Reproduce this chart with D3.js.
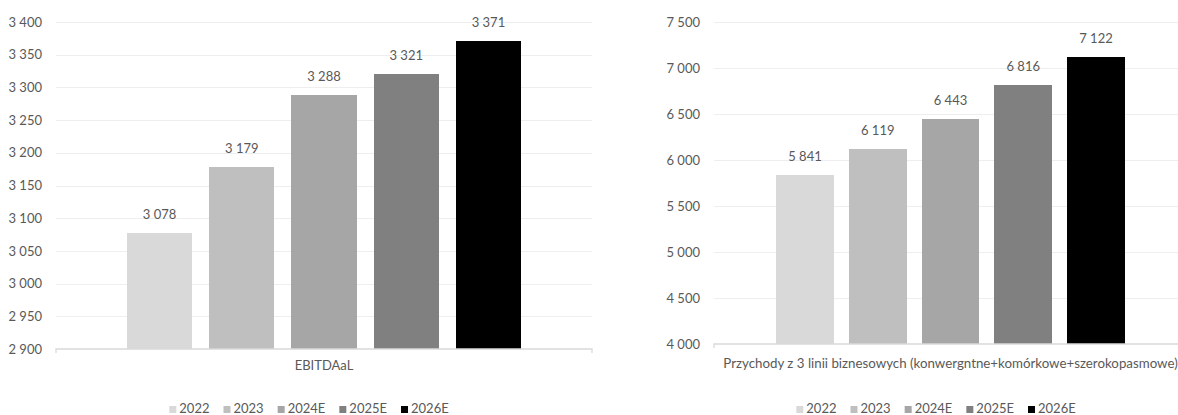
<!DOCTYPE html>
<html>
<head>
<meta charset="utf-8">
<script src="https://cdn.jsdelivr.net/npm/d3@7"></script>
<style>
  html, body { margin: 0; padding: 0; background: #fff; overflow: hidden; }
  svg text { font-family: Lato, "Open Sans", sans-serif; fill: #595959; }
</style>
</head>
<body>
<svg id="chart" width="1178" height="415"></svg>
<script>
// Series (years) shared by both panels
const years = ["2022", "2023", "2024E", "2025E", "2026E"];
const colors = ["#d9d9d9", "#bfbfbf", "#a6a6a6", "#808080", "#000000"];

// Left panel: EBITDAaL
const ebitdaCategory = ["EBITDAaL"];
const ebitdaValues = [3078, 3179, 3288, 3321, 3371];
const ebitdaTicks = [2900, 2950, 3000, 3050, 3100, 3150, 3200, 3250, 3300, 3350, 3400];

// Right panel: revenue from 3 business lines
const revenueCategory = ["Przychody z 3 linii biznesowych (konwergntne+komórkowe+szerokopasmowe)"];
const revenueValues = [5841, 6119, 6443, 6816, 7122];
const revenueTicks = [4000, 4500, 5000, 5500, 6000, 6500, 7000, 7500];

const pl = d3.formatLocale({ decimal: ",", thousands: " ", grouping: [3], currency: ["", " zł"] });
const fmt = pl.format(",d");

const svg = d3.select("#chart");

function panel(cfg) {
  const g = svg.append("g");
  const y = d3.scaleLinear().domain(cfg.domain).range([cfg.bottom, cfg.top]);
  const x0 = d3.scaleBand().domain(cfg.category).range([cfg.left, cfg.right])
    .paddingInner(0).paddingOuter(cfg.outerPad);
  const x1 = d3.scaleBand().domain(years).range([0, x0.bandwidth()])
    .paddingInner(cfg.innerPad).paddingOuter(0);

  // gridlines + value labels via axis
  const yAxis = d3.axisLeft(y).tickValues(cfg.ticks).tickFormat(fmt)
    .tickSize(-(cfg.right - cfg.left)).tickPadding(14);
  const ya = g.append("g").attr("transform", `translate(${cfg.left},0)`).call(yAxis);
  ya.select(".domain").remove();
  ya.selectAll(".tick line").attr("stroke", "#eeeeee").attr("stroke-width", 1)
    .attr("shape-rendering", "crispEdges");
  ya.selectAll(".tick text").attr("font-size", 13).attr("fill", "#595959");
  ya.selectAll(".tick").filter(d => d === cfg.domain[0]).select("line").remove();

  // bars
  const cat = cfg.category[0];
  g.append("g").selectAll("rect").data(cfg.values).join("rect")
    .attr("x", (d, i) => x0(cat) + x1(years[i]))
    .attr("width", x1.bandwidth())
    .attr("y", d => y(d))
    .attr("height", d => y(cfg.domain[0]) - y(d))
    .attr("fill", (d, i) => colors[i])
    .attr("shape-rendering", "crispEdges");

  // value labels
  g.append("g").selectAll("text").data(cfg.values).join("text")
    .attr("x", (d, i) => x0(cat) + x1(years[i]) + x1.bandwidth() / 2)
    .attr("y", d => y(d) - 14)
    .attr("text-anchor", "middle")
    .attr("font-size", 13)
    .text(d => fmt(d));

  // category axis
  const xAxis = d3.axisBottom(x0).tickSize(0).tickPadding(cfg.catPad);
  const xa = g.append("g").attr("transform", `translate(0,${cfg.bottom})`).call(xAxis);
  xa.select(".domain").attr("stroke", "#d9d9d9").attr("stroke-width", 1.3)
    .attr("d", `M${cfg.left},4V0H${cfg.right}V4`);
  xa.selectAll(".tick text").attr("font-size", cfg.catFont).attr("fill", "#595959");

  // legend
  const leg = g.append("g");
  let cx = 0;
  years.forEach((yr, i) => {
    const it = leg.append("g");
    it.append("rect").attr("x", 0).attr("y", -7).attr("width", 7).attr("height", 7)
      .attr("fill", colors[i]);
    const t = it.append("text").attr("x", 10).attr("y", 0).attr("font-size", 13).text(yr);
    const w = 10 + t.node().getComputedTextLength();
    it.attr("transform", `translate(${cx},0)`);
    cx += w + 14;
  });
  const total = cx - 14;
  leg.attr("transform", `translate(${cfg.legendCenter - total / 2},${cfg.legendY})`);
}

panel({
  category: ebitdaCategory, values: ebitdaValues, ticks: ebitdaTicks,
  domain: [2900, 3400], top: 22, bottom: 349, left: 56, right: 592,
  outerPad: 0.18, innerPad: 0.207, catPad: 12, catFont: 13, legendCenter: 309, legendY: 413
});

panel({
  category: revenueCategory, values: revenueValues, ticks: revenueTicks,
  domain: [4000, 7500], top: 22, bottom: 344, left: 714, right: 1187,
  outerPad: 0.178, innerPad: 0.205, catPad: 15, catFont: 13.3, legendCenter: 936, legendY: 413
});
</script>
</body>
</html>
